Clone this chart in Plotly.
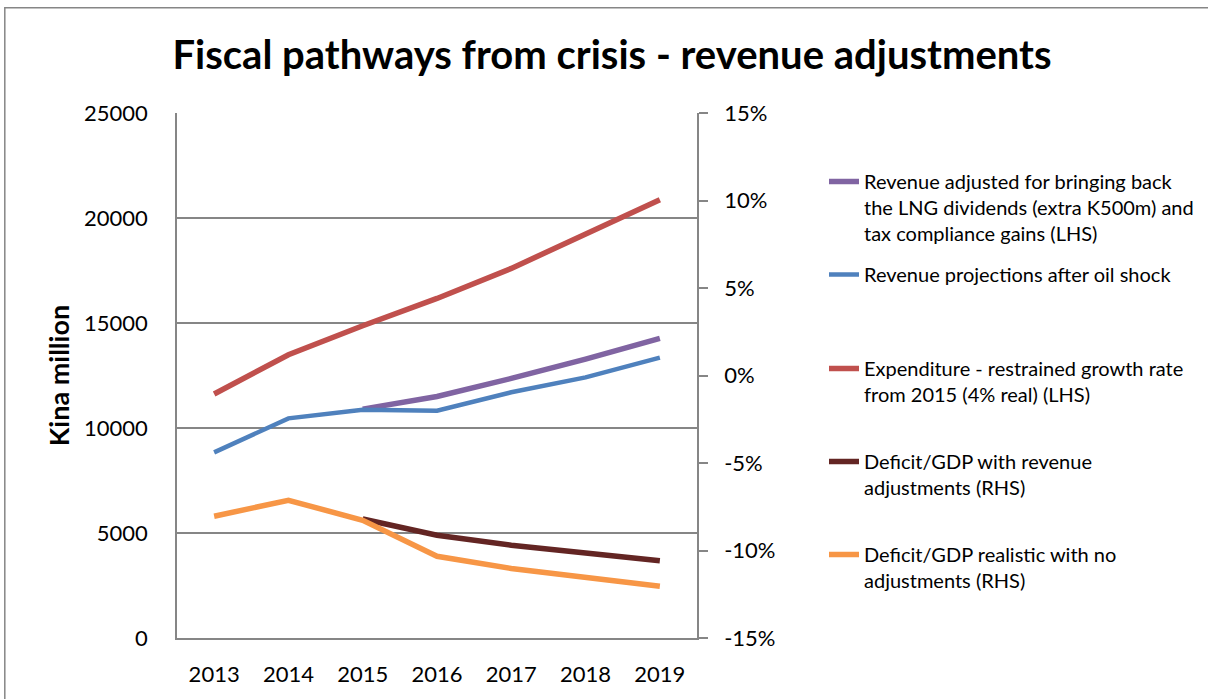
import plotly.graph_objects as go

years = ["2013", "2014", "2015", "2016", "2017", "2018", "2019"]
rev_adjusted = [None, None, 10900, 11500, 12360, 13280, 14270]
rev_oil_shock = [8840, 10460, 10870, 10820, 11700, 12410, 13350]
expenditure = [11620, 13490, 14870, 16170, 17600, 19240, 20870]
deficit_adj = [None, None, -8.2, -9.13, -9.70, -10.13, -10.59]
deficit_noadj = [-8.04, -7.13, -8.27, -10.33, -11.03, -11.54, -12.04]
rhs_ticks = [-15, -10, -5, 0, 5, 10, 15]
rhs_ticktext = ["-15%", "-10%", "-5%", "0%", "5%", "10%", "15%"]

names = [
    "Revenue adjusted for bringing back<br>the LNG dividends (extra K500m) and<br>tax compliance gains (LHS)",
    "Revenue projections after oil shock",
    "Expenditure - restrained growth rate<br>from 2015 (4% real) (LHS)",
    "Deficit/GDP with revenue<br>adjustments (RHS)",
    "Deficit/GDP realistic with no<br>adjustments (RHS)",
]
colors = ["#8064A2", "#4F81BD", "#C0504D", "#632523", "#F79646"]
widths = [5.5, 4.5, 5.5, 5.5, 5.5]

FONT = "Lato"
W, H = 1208, 699
L, R, T, B = 176.7, 697.3, 112.7, 638.3

fig = go.Figure()
series = [(rev_adjusted, "y"), (rev_oil_shock, "y"), (expenditure, "y"),
          (deficit_adj, "y2"), (deficit_noadj, "y2")]
legend_ids = ["legend", "legend2", "legend3", "legend4", "legend5"]
for i, (vals, ax) in enumerate(series):
    fig.add_trace(go.Scatter(
        x=years, y=vals, name=names[i], mode="lines", yaxis=ax,
        line=dict(color=colors[i], width=widths[i]),
        legend=legend_ids[i], connectgaps=False, showlegend=True,
    ))

legend_y = [182, 275, 369, 462, 555]
legend_kw = {}
for i, lid in enumerate(legend_ids):
    legend_kw[lid] = dict(
        xref="container", yref="container",
        x=824 / W, y=1 - (legend_y[i] - 20) / H,
        xanchor="left", yanchor="top",
        font=dict(family=FONT, size=20, color="#000000"),
        bgcolor="rgba(0,0,0,0)", valign="top",
    )

fig.update_layout(
    width=W, height=H, showlegend=True,
    margin=dict(l=L, r=W - R, t=T, b=H - B, pad=0, autoexpand=False),
    paper_bgcolor="white", plot_bgcolor="white",
    font=dict(family=FONT, color="#000000"),
    title=dict(text="<b>Fiscal pathways from crisis - revenue adjustments</b>",
               x=612 / W, xanchor="center", y=1 - 55 / H, yanchor="middle",
               xref="container", yref="container",
               font=dict(family=FONT, size=40, color="#000000")),
    xaxis=dict(
        type="category", showgrid=False, showline=True, linecolor="#868686", linewidth=1.5,
        ticks="", tickfont=dict(family=FONT, size=22), ticklabelstandoff=16,
        range=[-0.5, 6.5],
    ),
    yaxis=dict(
        range=[0, 25000], dtick=5000, tickformat="d", showgrid=True,
        gridcolor="#868686", gridwidth=1.5,
        showline=True, linecolor="#868686", linewidth=1.5, ticks="",
        tickfont=dict(family=FONT, size=22), ticklabelstandoff=23, zeroline=False,
        title=dict(text="<b>Kina million</b>", font=dict(family=FONT, size=27), standoff=7),
    ),
    yaxis2=dict(
        overlaying="y", side="right", range=[-15, 15],
        tickmode="array", tickvals=rhs_ticks, ticktext=rhs_ticktext,
        showgrid=False, showline=True, linecolor="#868686", linewidth=1.5,
        ticks="outside", ticklen=9, tickcolor="#868686", tickwidth=1.5,
        tickfont=dict(family=FONT, size=22), ticklabelstandoff=12, zeroline=False,
    ),
    **legend_kw,
)

# outer chart border
fig.add_shape(type="rect", xref="paper", yref="paper",
              x0=(4.3 - L) / (R - L), x1=(1215 - L) / (R - L),
              y0=(B - 710) / (B - T), y1=(B - 7.3) / (B - T),
              line=dict(color="#868686", width=1.5), fillcolor="rgba(0,0,0,0)", layer="below")

fig.write_html("out.html", config={"displayModeBar": False},
               post_script="document.body.style.margin='0px';")
